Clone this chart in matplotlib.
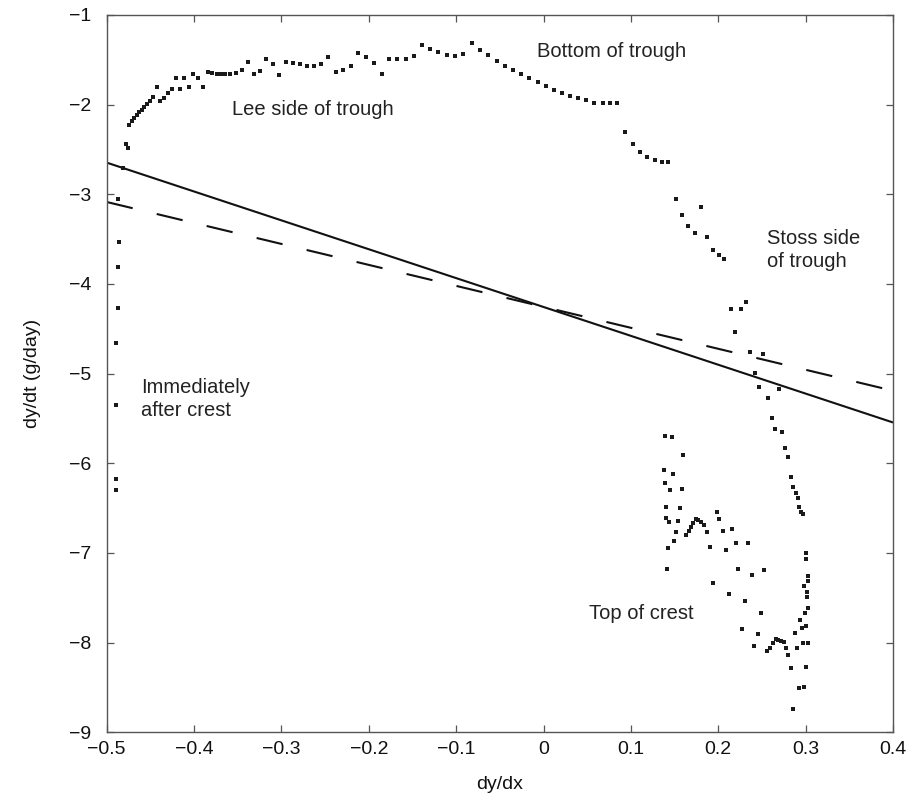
import numpy as np
import matplotlib.pyplot as plt

plt.rcParams['font.family'] = ['Liberation Sans', 'DejaVu Sans']

# ----- data -----
# immediately after crest (near-vertical column at the left)
after_x = [-0.489, -0.489, -0.489, -0.489, -0.487, -0.487, -0.486, -0.487, -0.481, -0.478, -0.476]
after_y = [-6.298, -6.178, -5.346, -4.655, -4.264, -3.807, -3.535, -3.056, -2.71, -2.442, -2.487]

# lee side of trough
lee_x = [-0.4745, -0.4714, -0.4688, -0.4657, -0.4627, -0.46, -0.457, -0.4539, -0.4504, -0.4467,
         -0.4428, -0.439, -0.4344, -0.4295, -0.4256, -0.4207, -0.4161, -0.4112, -0.4058, -0.4009,
         -0.3958, -0.3894, -0.3837, -0.3791, -0.3741, -0.3695, -0.3646, -0.3589, -0.3523, -0.3455,
         -0.3386, -0.3314, -0.3245, -0.3177, -0.3093, -0.3024, -0.2948, -0.2864, -0.2787, -0.2711,
         -0.2627, -0.2547, -0.2464, -0.2379, -0.2292, -0.2207, -0.212, -0.2032, -0.1941, -0.1852,
         -0.1765, -0.1674, -0.1578, -0.1483, -0.1394]
lee_y = [-2.227, -2.182, -2.145, -2.115, -2.085, -2.06, -2.03, -1.996, -1.956, -1.911,
         -1.806, -1.956, -1.929, -1.873, -1.829, -1.706, -1.825, -1.706, -1.80, -1.661,
         -1.699, -1.80, -1.639, -1.65, -1.658, -1.658, -1.658, -1.658, -1.643, -1.613,
         -1.528, -1.661, -1.621, -1.494, -1.547, -1.669, -1.521, -1.532, -1.55, -1.569,
         -1.569, -1.547, -1.472, -1.639, -1.613, -1.569, -1.427, -1.472, -1.532, -1.658,
         -1.494, -1.494, -1.494, -1.457, -1.335]

# bottom of trough
bottom_x = [-0.13, -0.1205, -0.1108, -0.1013, -0.0918, -0.0822, -0.0727, -0.0632, -0.0536, -0.0441,
            -0.0346, -0.0258, -0.0163, -0.0067, 0.0028, 0.0123, 0.0215, 0.0303, 0.0398, 0.0486,
            0.0581, 0.0677, 0.076, 0.0844]
bottom_y = [-1.379, -1.416, -1.446, -1.454, -1.435, -1.316, -1.39, -1.446, -1.51, -1.565,
            -1.613, -1.661, -1.706, -1.751, -1.792, -1.836, -1.873, -1.903, -1.929, -1.948,
            -1.985, -1.985, -1.985, -1.978]

# stoss side of trough
stoss_x = [0.0932, 0.102, 0.1104, 0.1188, 0.1276, 0.1353, 0.1428, 0.1513, 0.1588, 0.1657,
           0.1734, 0.1802, 0.1875, 0.1943, 0.2009, 0.2066, 0.2142, 0.2257, 0.2314, 0.2195,
           0.2363, 0.2516, 0.242, 0.247, 0.2691, 0.2566, 0.2611, 0.265, 0.2733, 0.2767,
           0.2795, 0.2829, 0.2859, 0.289, 0.2909, 0.2928, 0.2947, 0.2966]
stoss_y = [-2.308, -2.442, -2.525, -2.58, -2.617, -2.636, -2.643, -3.049, -3.231, -3.35,
           -3.435, -3.145, -3.479, -3.621, -3.677, -3.725, -4.279, -4.282, -4.204, -4.532,
           -4.755, -4.781, -4.996, -5.146, -5.175, -5.275, -5.498, -5.621, -5.647, -5.826,
           -5.933, -6.149, -6.268, -6.335, -6.384, -6.484, -6.54, -6.569]

# top of crest
crest_x = [0.139, 0.1467, 0.16, 0.1382, 0.1478, 0.139, 0.1448, 0.1582, 0.1402, 0.1562,
           0.1402, 0.1439, 0.1535, 0.1513, 0.1493, 0.1428, 0.141,
           0.163, 0.1661, 0.1688, 0.1714, 0.1742, 0.1771, 0.1802, 0.1837, 0.1875,
           0.1982, 0.2009, 0.2051, 0.2157, 0.1905, 0.2088, 0.2199, 0.2344, 0.223, 0.2383,
           0.2523, 0.1943, 0.2123, 0.2306, 0.2489, 0.2268, 0.2451, 0.2412,
           0.2561, 0.2592, 0.2623, 0.2657, 0.2687, 0.2718, 0.2752, 0.2775, 0.2802, 0.2832,
           0.2852, 0.2875, 0.2901, 0.2921, 0.2981, 0.2939, 0.2955, 0.2973, 0.3024, 0.3008,
           0.3004, 0.2993, 0.3024, 0.3019, 0.3019, 0.2981, 0.3031, 0.3031, 0.3001, 0.3004]
crest_y = [-5.692, -5.707, -5.907, -6.075, -6.119, -6.216, -6.298, -6.29, -6.491, -6.495,
           -6.613, -6.658, -6.64, -6.763, -6.863, -6.941, -7.182,
           -6.80, -6.76, -6.71, -6.67, -6.62, -6.63, -6.66, -6.69, -6.77,
           -6.54, -6.621, -6.751, -6.736, -6.93, -6.967, -6.893, -6.893, -7.182, -7.245,
           -7.19, -7.331, -7.461, -7.536, -7.673, -7.851, -7.907, -8.038,
           -8.09, -8.063, -8.0, -7.959, -7.971, -7.982, -7.99, -8.063, -8.138, -8.287,
           -8.744, -7.896, -8.056, -8.51, -8.498, -7.748, -7.833, -8.008, -8.008, -8.268,
           -7.811, -7.673, -7.617, -7.494, -7.432, -7.369, -7.313, -7.257, -7.067, -6.997]

# fitted lines (end values at x = -0.5 and x = 0.4)
line_x = [-0.5, 0.4]
solid_y = [-2.647, -5.545]
dashed_y = [-3.086, -5.191]

# annotations: text, x, y
labels = ["Bottom of trough", "Lee side of trough", "Stoss side\nof trough",
          "Immediately\nafter crest", "Top of crest"]
label_x = [-0.007, -0.357, 0.256, -0.461, 0.0524]
label_y = [-1.41, -2.052, -3.62, -5.28, -7.67]

xticks = [-0.5, -0.4, -0.3, -0.2, -0.1, 0, 0.1, 0.2, 0.3, 0.4]
xtick_labels = ["\u22120.5", "\u22120.4", "\u22120.3", "\u22120.2", "\u22120.1", "0", "0.1", "0.2", "0.3", "0.4"]
yticks = [-9, -8, -7, -6, -5, -4, -3, -2, -1]
ytick_labels = ["\u2212%d" % abs(v) for v in yticks]

# ----- plot -----
fig = plt.figure(figsize=(9.09, 7.99), dpi=100)
ax = fig.add_axes([0.1174, 0.0835, 0.865, 0.8978])

lw = 1.5
ax.plot(line_x, solid_y, color='#111111', lw=lw, solid_capstyle='butt')
ax.plot(line_x, dashed_y, color='#111111', lw=lw, linestyle=(0, (19.2 / lw, 17.8 / lw)))

pt_x = after_x + lee_x + bottom_x + stoss_x + crest_x
pt_y = after_y + lee_y + bottom_y + stoss_y + crest_y
ax.plot(pt_x, pt_y, linestyle='none', marker='s', ms=3.3, color='#1a1a1a', mew=0)

for t, x, y in zip(labels, label_x, label_y):
    ax.text(x, y, t, ha='left', va='center', fontsize=14.5, color='#222222', linespacing=1.28)

ax.set_xlim(-0.5, 0.4)
ax.set_ylim(-9, -1)
ax.set_xticks(xticks)
ax.set_xticklabels(xtick_labels)
ax.set_yticks(yticks)
ax.set_yticklabels(ytick_labels)
ax.tick_params(direction='in', length=5, width=0.9, color='#555555', labelsize=14,
               top=True, right=True, labelcolor='#111111')
ax.tick_params(axis='x', pad=6.5)
ax.tick_params(axis='y', pad=11)
for s in ax.spines.values():
    s.set_color('#555555')
    s.set_linewidth(1.0)

ax.set_xlabel("dy/dx", fontsize=14, color='#111111', labelpad=13)
ax.set_ylabel("dy/dt (g/day)", fontsize=14, color='#111111', labelpad=20)

fig.savefig("out.png", dpi=100)
